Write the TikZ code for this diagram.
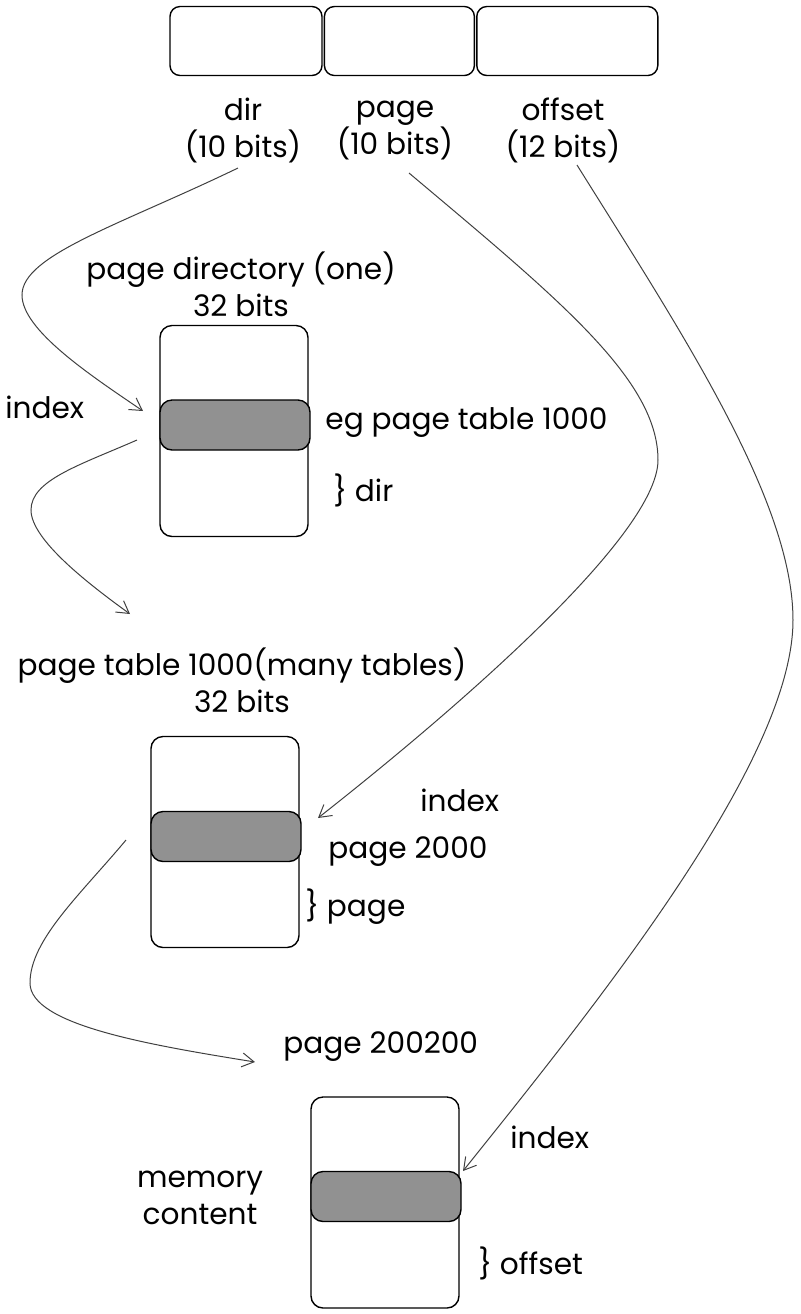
\documentclass[tikz,border=0pt]{standalone}
\usepackage{fontspec}
\setmainfont{Poppins}
\usetikzlibrary{arrows.meta, positioning}
\definecolor{hatchgray}{RGB}{145,145,145}
\tikzset{>={Straight Barb[length=6pt,width=7pt]}}

\begin{document}
\begin{tikzpicture}[x=0.5pt, y=-0.5pt,
    every node/.style={font=\fontsize{14.8}{18.5}\selectfont, align=center, inner sep=0pt},
    field/.style={draw, rounded corners=5pt, line width=0.7pt, minimum height=34.5pt},
    tbl/.style={draw, rounded corners=6pt, line width=0.7pt, minimum width=74pt, minimum height=105.5pt},
    entry/.style={draw, fill=hatchgray, rounded corners=6pt, line width=0.7pt, minimum width=75pt, minimum height=25pt},
    arr/.style={->, line width=0.5pt, black!75}]
  \useasboundingbox (0,0) rectangle (800,1314);

  % the linear address
  \node[field, minimum width=76pt] (dirf) at (246,41) {};
  \node[field, minimum width=75pt, right=0.5pt of dirf] (pagef) {};
  \node[field, minimum width=90.5pt, right=0.5pt of pagef] (offf) {};
  \node (dirl) at (243,130) {dir\\(10 bits)};
  \node (pagel) at (395,130) {page\\(10 bits)};
  \node (offl) at (563,130) {offset\\(12 bits)};

  % page directory
  \node (pdt) at (241,284) {page directory (one)\\32 bits};
  \node[tbl] (pd) at (234,431) {};
  \node[entry] (pde) at (235,425) {};
  \node[anchor=west] (pdv) at (325,423) {eg page table 1000};
  \node[anchor=west] (pdb) at (333,490) {\} dir};
  \node[anchor=west] (idx1) at (5,407) {index};

  % page table
  \node (ptt) at (242,680) {page table 1000(many tables)\\32 bits};
  \node[tbl] (pt) at (225,842) {};
  \node[entry] (pte) at (226,836.5) {};
  \node[anchor=west] (idx2) at (420,800) {index};
  \node[anchor=west] (ptv) at (328,852) {page 2000};
  \node[anchor=west] (ptb) at (305,907) {\} page};

  % page
  \node[anchor=west] (pgt) at (283,1047) {page 200200};
  \node[tbl] (mem) at (385,1202.5) {};
  \node[entry] (meme) at (386,1196.5) {};
  \node (memt) at (200,1198) {memory\\content};
  \node[anchor=west] (idx3) at (510,1137) {index};
  \node[anchor=west] (memb) at (478,1263) {\} offset};

  % arrow ends
  \coordinate (dirs) at (238,168);
  \coordinate (pdin) at (143,411);
  \coordinate (pdout) at (137,440);
  \coordinate (ptin) at (130,614);
  \coordinate (pages) at (409,173);
  \coordinate (ptein) at (318,818);
  \coordinate (ptout) at (126,840);
  \coordinate (pgin) at (255,1062);
  \coordinate (offs) at (577,165);
  \coordinate (memin) at (463,1171);

  \draw[arr] (dirs) .. controls (120,225) and (22,255) .. (22,295)
    .. controls (22,330) and (90,375) .. (pdin);
  \draw[arr] (pdout) .. controls (80,465) and (31,480) .. (31,510)
    .. controls (31,540) and (90,585) .. (ptin);
  \draw[arr] (pages) .. controls (560,300) and (658,380) .. (658,460)
    .. controls (658,540) and (430,730) .. (ptein);
  \draw[arr] (ptout) .. controls (80,895) and (30,940) .. (30,983)
    .. controls (30,1025) and (150,1045) .. (pgin);
  \draw[arr] (offs) .. controls (680,330) and (793,500) .. (793,620)
    .. controls (793,760) and (600,1000) .. (memin);
\end{tikzpicture}
\end{document}
